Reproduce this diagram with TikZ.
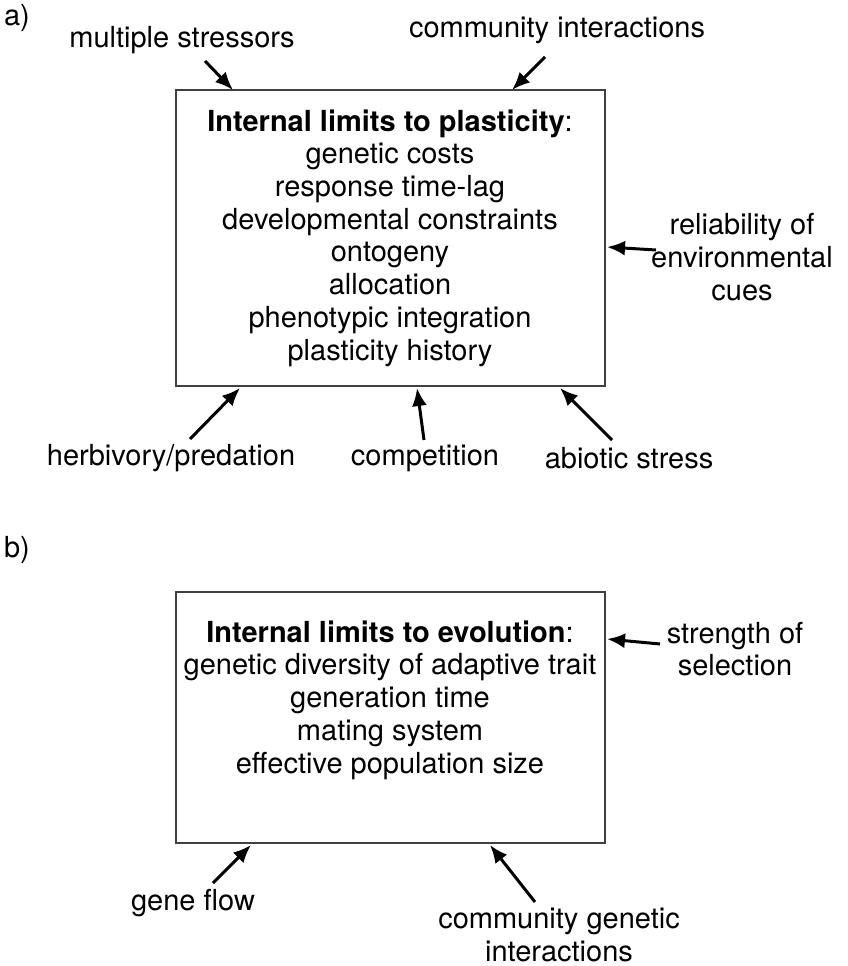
\documentclass[tikz,border=0pt]{standalone}
\usepackage{fontspec}
\setmainfont{TeX Gyre Heros}
\usetikzlibrary{arrows.meta}
\tikzset{
  arr/.style={line width=3pt,-{Latex[length=18pt,width=15pt]}},
  limbox/.style={draw=black!75,line width=2pt},
  lab/.style={align=center,font=\fontsize{29}{32.7}\selectfont}
}
\begin{document}
\begin{tikzpicture}[x=1pt,y=-1pt]
	    \useasboundingbox (0,0) rectangle (848,966);
	    \node (pa) at (17,18) [lab] {a)};
	    \node (pb) at (17,550) [lab] {b)};
	    % panel a
	    \draw[limbox] (176,90) rectangle (605,386);
	    \node (ta) at (390,238) [lab] {\textbf{Internal limits to plasticity}:\\genetic costs\\response time-lag\\developmental constraints\\ontogeny\\allocation\\phenotypic integration\\plasticity history};
	    \node (v1) at (182,40) [lab] {multiple stressors};
	    \node (v2) at (557,30) [lab] {community interactions};
	    \node (v3) at (742,257) [lab] {reliability of\\environmental\\cues};
	    \node (v4) at (171,458) [lab] {herbivory/predation};
	    \node (v5) at (425,458) [lab] {competition};
	    \node (v6) at (629,458) [lab] {abiotic stress};
	    \coordinate (h1) at (233,90);
	    \coordinate (h2) at (512,90);
	    \coordinate (h3) at (607,247);
	    \coordinate (h4) at (240,388);
	    \coordinate (h5) at (417,388);
	    \coordinate (h6) at (560,388);
	    \draw[arr] (205,61) -- (h1);
	    \draw[arr] (545,57) -- (h2);
	    \draw[arr] (656,250) -- (h3);
	    \draw[arr] (190,439) -- (h4);
	    \draw[arr] (424,440) -- (h5);
	    \draw[arr] (612,440) -- (h6);
	    % panel b
	    \draw[limbox] (176,592) rectangle (605,843);
	    \node (tb) at (390,700) [lab] {\textbf{Internal limits to evolution}:\\genetic diversity of adaptive trait\\generation time\\mating system\\effective population size};
	    \node (w1) at (735,649) [lab] {strength of\\selection};
	    \node (w2) at (193,903) [lab] {gene flow};
	    \node (w3) at (559,935) [lab] {community genetic\\interactions};
	    \coordinate (k1) at (607,639);
	    \coordinate (k2) at (251,845);
	    \coordinate (k3) at (490,845);
	    \draw[arr] (660,644) -- (k1);
	    \draw[arr] (213,883) -- (k2);
	    \draw[arr] (535,902) -- (k3);
\end{tikzpicture}
\end{document}
